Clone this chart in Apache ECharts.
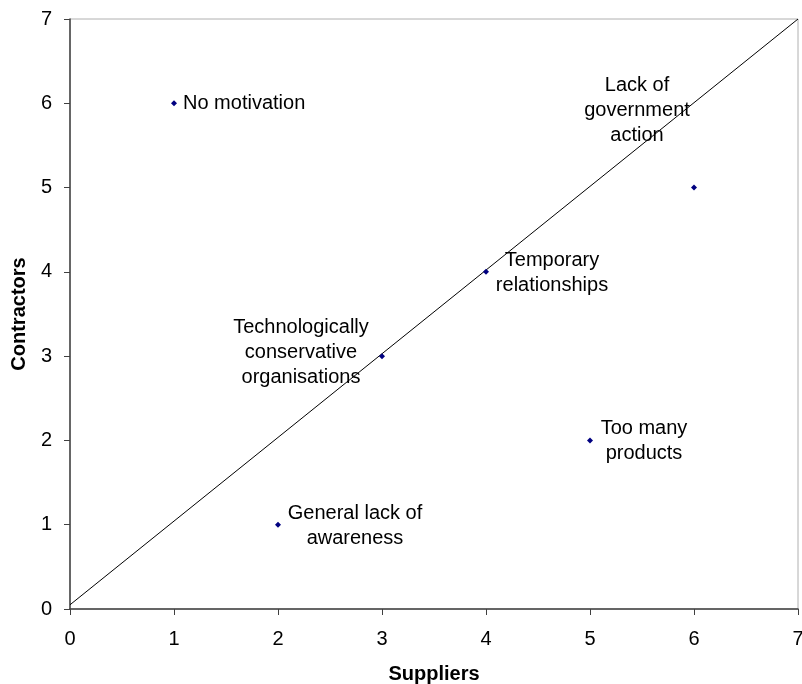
<!DOCTYPE html>
<html>
<head>
<meta charset="utf-8">
<script src="https://cdn.jsdelivr.net/npm/echarts@6/dist/echarts.min.js"></script>
<style>html,body{margin:0;padding:0;background:#fff;overflow:hidden}#c{width:802px;height:684px}</style>
</head>
<body>
<div id="c"></div>
<script>
// ---- data ----
var pointNames = ['No motivation', 'Lack of\ngovernment\naction', 'Temporary\nrelationships', 'Technologically\nconservative\norganisations', 'Too many\nproducts', 'General lack of\nawareness'];
var suppliers = [1, 6, 4, 3, 5, 2];
var contractors = [6, 5, 4, 3, 2, 1];
var lineX = [0, 7];
var lineY = [0.05, 7];
var xTicks = [0, 1, 2, 3, 4, 5, 6, 7];
var yTicks = [0, 1, 2, 3, 4, 5, 6, 7];

// ---- label layout (styling) ----
var labelLayout = [
  {align: 'left', offset: [9, 0]},
  {align: 'center', offset: [-57, -77]},
  {align: 'center', offset: [66, 1]},
  {align: 'center', offset: [-81, -4]},
  {align: 'center', offset: [54, 1]},
  {align: 'center', offset: [77, 1]}
];

var FONT = '"Liberation Sans", Arial, sans-serif';
var scatterData = suppliers.map(function (x, i) {
  return {
    value: [x, contractors[i]],
    name: pointNames[i],
    label: {
      show: true,
      position: 'inside',
      formatter: '{b}',
      align: labelLayout[i].align,
      verticalAlign: 'middle',
      offset: labelLayout[i].offset,
      fontSize: 20,
      lineHeight: 25,
      color: '#000',
      opacity: 1,
      textBorderWidth: 0,
      fontFamily: FONT
    }
  };
});
var lineData = lineX.map(function (x, i) { return [x, lineY[i]]; });

var chart = echarts.init(document.getElementById('c'), null, {renderer: 'canvas'});
chart.setOption({
  animation: false,
  backgroundColor: '#fff',
  grid: {left: 70, top: 19, width: 728, height: 590, outerBoundsMode: 'none', containLabel: false,
    show: true, borderColor: '#b0b0b0', borderWidth: 1, backgroundColor: '#fff'},
  xAxis: {
    type: 'value', min: 0, max: 7, interval: 1,
    name: 'Suppliers', nameLocation: 'middle', nameGap: 55,
    nameTextStyle: {fontSize: 20, fontWeight: 'bold', color: '#000', fontFamily: FONT},
    axisLine: {show: true, onZero: false, lineStyle: {color: '#404040', width: 1.5}},
    axisTick: {show: true, inside: false, length: 6, lineStyle: {color: '#404040'}},
    axisLabel: {fontSize: 20, color: '#000', margin: 20, fontFamily: FONT,
      formatter: function (v) { return xTicks.indexOf(v) >= 0 ? String(v) : ''; }},
    splitLine: {show: false}
  },
  yAxis: {
    type: 'value', min: 0, max: 7, interval: 1,
    name: 'Contractors', nameLocation: 'middle', nameGap: 38,
    nameTextStyle: {fontSize: 20, fontWeight: 'bold', color: '#000', fontFamily: FONT},
    axisLine: {show: true, onZero: false, lineStyle: {color: '#404040', width: 1.5}},
    axisTick: {show: true, inside: false, length: 6, lineStyle: {color: '#404040'}},
    axisLabel: {fontSize: 20, color: '#000', margin: 18, fontFamily: FONT,
      formatter: function (v) { return yTicks.indexOf(v) >= 0 ? String(v) : ''; }},
    splitLine: {show: false}
  },
  series: [
    {
      type: 'line', data: lineData, symbol: 'none', silent: true,
      lineStyle: {color: '#000', width: 1}, z: 2
    },
    {
      type: 'scatter', data: scatterData, symbol: 'diamond', symbolSize: 6,
      itemStyle: {color: '#000080', opacity: 1}, z: 3
    }
  ]
});
</script>
</body>
</html>
